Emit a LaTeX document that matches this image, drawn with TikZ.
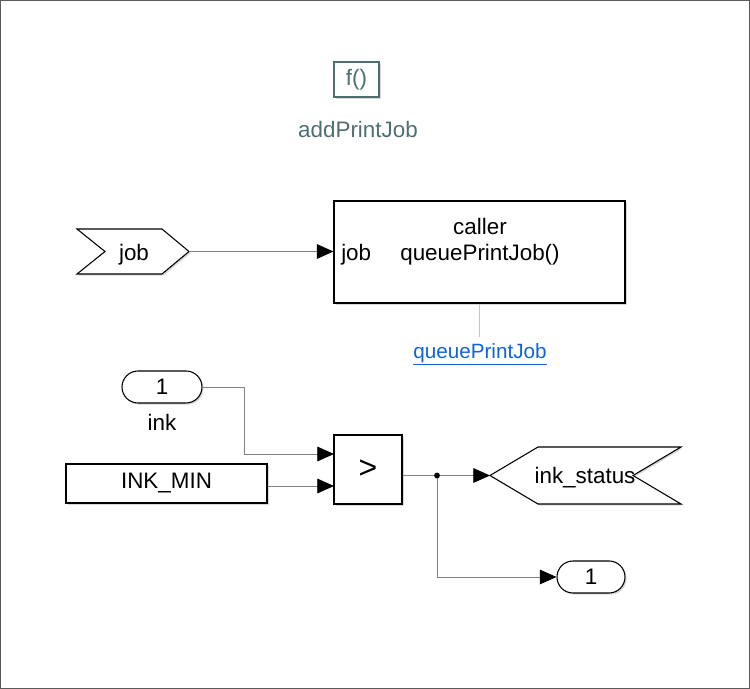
\documentclass[tikz,border=0pt]{standalone}
\usepackage{fontspec}
\setmainfont{Liberation Sans}
\usetikzlibrary{arrows.meta,shapes.misc,shadows,calc}
\definecolor{sig}{RGB}{128,128,128}
\definecolor{fgray}{RGB}{78,110,114}
\definecolor{linkblue}{RGB}{16,100,214}
\definecolor{linkline}{RGB}{160,210,226}
\definecolor{framegray}{RGB}{90,90,90}
\begin{document}
\begin{tikzpicture}[x=0.75pt,y=-0.75pt,
  shd/.style={drop shadow={shadow xshift=1.2pt,shadow yshift=-1.2pt,opacity=0.3}},
  blk/.style={draw=black, fill=white, line width=0.8pt, inner sep=0pt, shd},
  tagshape/.style={draw=black, fill=white, line width=0.8pt, line join=miter, shd},
  ghost/.style={inner sep=0pt, outer sep=0pt},
  sigline/.style={draw=sig, line width=0.6pt},
  arr/.style={sigline, -{Triangle[length=12.5pt,width=11pt,color=black]}},
  txt/.style={font=\fontsize{16.8}{20}\selectfont, inner sep=0pt}]
\useasboundingbox (0,0) rectangle (750,689);
\draw[framegray, line width=0.8pt] (0.6,0.6) rectangle (749.4,688.4);

% function-call subsystem icon
\node[blk, draw=fgray, minimum width=33.75pt, minimum height=26.25pt, text=fgray, txt] (fbox) at (356.5,79.5) {f()};
\node[txt, text=fgray, anchor=base] (fname) at (358,137) {addPrintJob};

% job From tag
\draw[tagshape] (77,229) -- (162,229) -- (189,251.5) -- (162,274) -- (77,274) -- (105,251.5) -- cycle;
\node[ghost, minimum width=84pt, minimum height=33.75pt] (jobtag) at (133,251.5) {};
\node[txt, anchor=base] (jobtxt) at (134,260) {job};

% caller block
\node[blk, minimum width=218.25pt, minimum height=76.5pt] (caller) at (479.5,252) {};
\node[txt, anchor=base] (callertxt) at (480,234) {caller};
\node[txt, anchor=base west] (jobport) at (341,260) {job};
\node[txt, anchor=base] (qpj) at (480,260) {queuePrintJob()};
\draw[arr] (jobtag.east) -- (caller.west |- jobtag.east);

% link
\coordinate (linkend) at (479.5,337);
\draw[linkline, line width=0.8pt] (caller.south) -- (linkend);
\node[font=\fontsize{15.5}{18}\selectfont, inner sep=0pt, text=linkblue, anchor=base] (link) at (480,358) {\underline{queuePrintJob}};

% inport
\node[blk, rounded rectangle, minimum width=60pt, minimum height=24pt, txt] (inport) at (162,387) {1};
\node[txt, anchor=base] (inklbl) at (162,430) {ink};

% constant
\node[blk, minimum width=150.75pt, minimum height=29.25pt, txt] (inkmin) at (166.5,483.5) {INK\_MIN};

% relational operator
\node[blk, minimum width=51pt, minimum height=51.75pt, font=\fontsize{24}{28}\selectfont] (cmp) at (368,469.5) {>};
\coordinate (cmpin1) at (334,454);
\coordinate (cmpin2) at (334,486);
\draw[arr] (inport.east) -- (244,387) |- (cmpin1);
\draw[arr] (inkmin.east |- cmpin2) -- (cmpin2);

% ink_status Goto tag
\draw[tagshape] (490,475.5) -- (538,447) -- (681,447) -- (633,475.5) -- (681,504) -- (538,504) -- cycle;
\node[ghost, minimum width=143.25pt, minimum height=42.75pt] (stattag) at (585.5,475.5) {};
\node[txt, anchor=base] (stattxt) at (585,483) {ink\_status};

% outport
\node[blk, rounded rectangle, minimum width=51pt, minimum height=24pt, txt] (outport) at (591,577) {1};

% output wiring
\coordinate (junc) at (437,475.5);
\draw[sigline] (cmp.east |- junc) -- (junc);
\draw[arr] (junc) -- (stattag.west);
\draw[arr] (junc) |- (outport.west);
\fill[black] (junc) circle[radius=2.2pt];
\end{tikzpicture}
\end{document}
